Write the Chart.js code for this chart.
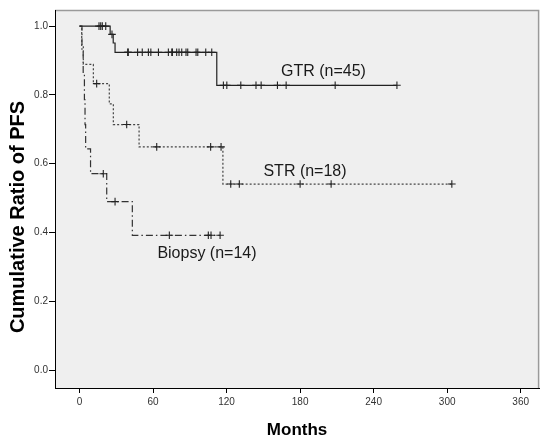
<!DOCTYPE html>
<html>
<head>
<meta charset="utf-8">
<script src="https://cdn.jsdelivr.net/npm/chart.js@4.4.1/dist/chart.umd.min.js"></script>
<style>
  html, body { margin: 0; padding: 0; background: #fff; }
  #wrap { width: 544px; height: 439px; }
</style>
</head>
<body>
<div id="wrap"><canvas id="km" width="544" height="439"></canvas></div>
<script>
// Kaplan-Meier curves (months, cumulative PFS, censored flag)
const gtrTimes = [0, 15.9, 17.3, 18.6, 21.4, 25, 26.5, 27.5, 29, 39.3, 39.8, 47.4, 51.2, 56.2, 58.2, 64.4, 72.5, 75.3, 75.8, 79.3, 81.2, 83.4, 86.9, 88.3, 95.1, 96.5, 103, 107.9, 112, 117.4, 120.2, 131.6, 144, 148.2, 161.5, 168.6, 208.6, 259]
const gtrSurv = [1, 1, 1, 1, 1, 0.976, 0.976, 0.951, 0.924, 0.924, 0.924, 0.924, 0.924, 0.924, 0.924, 0.924, 0.924, 0.924, 0.924, 0.924, 0.924, 0.924, 0.924, 0.924, 0.924, 0.924, 0.924, 0.924, 0.828, 0.828, 0.828, 0.828, 0.828, 0.828, 0.828, 0.828, 0.828, 0.828]
const gtrCensored = [0, 1, 1, 1, 1, 0, 1, 0, 0, 1, 1, 1, 1, 1, 1, 1, 1, 1, 1, 1, 1, 1, 1, 1, 1, 1, 1, 1, 0, 1, 1, 1, 1, 1, 1, 1, 1, 1]

const strTimes = [0, 1.8, 3.1, 11.3, 14, 24.3, 27.6, 38.5, 48.6, 63, 107, 115.5, 117, 123.4, 130.4, 180, 205.3, 303.8]
const strSurv = [1, 0.944, 0.889, 0.833, 0.833, 0.774, 0.714, 0.714, 0.649, 0.649, 0.649, 0.649, 0.541, 0.541, 0.541, 0.541, 0.541, 0.541]
const strCensored = [0, 0, 0, 0, 1, 0, 0, 1, 0, 1, 1, 1, 0, 1, 1, 1, 1, 1]

const bioTimes = [0, 2, 3, 4, 4.5, 5, 9, 19.4, 22.2, 29, 43.1, 73.3, 105.1, 107.3, 114.7]
const bioSurv = [1, 0.929, 0.857, 0.786, 0.714, 0.643, 0.571, 0.571, 0.49, 0.49, 0.392, 0.392, 0.392, 0.392, 0.392]
const bioCensored = [0, 0, 0, 0, 0, 0, 0, 1, 0, 1, 0, 1, 1, 1, 1]

const groupLabels = ['GTR (n=45)', 'STR (n=18)', 'Biopsy (n=14)']
const labelMonths = [199, 184, 104]
const labelRatio = [0.869, 0.576, 0.34]

const xTicks = [0, 60, 120, 180, 240, 300, 360]
const yTicks = [0, 0.2, 0.4, 0.6, 0.8, 1.0]

function kmDataset(label, times, surv, censored, color, dash) {
  return {
    label,
    data: times.map((t, i) => ({ x: t, y: surv[i] })),
    stepped: 'before',
    borderColor: color,
    borderWidth: 1.2,
    borderDash: dash,
    fill: false,
    pointStyle: 'cross',
    pointRadius: ctx => censored[ctx.dataIndex] ? 3.8 : 0,
    pointBorderColor: '#222',
    pointBorderWidth: 1.1,
    pointHoverRadius: 0
  }
}

// plot background + grey frame on top/right
const framePlugin = {
  id: 'frame',
  beforeDraw(chart) {
    const { ctx, chartArea: a } = chart
    ctx.save()
    ctx.fillStyle = '#efefef'
    ctx.fillRect(a.left, a.top, a.right - a.left, a.bottom - a.top)
    ctx.strokeStyle = '#9a9a9a'
    ctx.lineWidth = 1.5
    ctx.beginPath()
    ctx.moveTo(a.left, a.top + 0.5)
    ctx.lineTo(a.right - 0.5, a.top + 0.5)
    ctx.lineTo(a.right - 0.5, a.bottom)
    ctx.stroke()
    ctx.restore()
  },
  afterDraw(chart) {
    const { ctx, chartArea: a, scales } = chart
    ctx.save()
    ctx.fillStyle = '#1a1a1a'
    ctx.font = '16px "Liberation Sans", Arial, sans-serif'
    ctx.textAlign = 'center'
    ctx.textBaseline = 'middle'
    groupLabels.forEach((txt, i) => {
      ctx.fillText(txt, scales.x.getPixelForValue(labelMonths[i]), scales.y.getPixelForValue(labelRatio[i]))
    })
    // axis titles
    ctx.fillStyle = '#000'
    ctx.font = 'bold 17px "Liberation Sans", Arial, sans-serif'
    ctx.fillText('Months', (a.left + a.right) / 2, 430)
    ctx.font = 'bold 20px "Liberation Sans", Arial, sans-serif'
    ctx.translate(18, 217)
    ctx.rotate(-Math.PI / 2)
    ctx.fillText('Cumulative Ratio of PFS', 0, 0)
    ctx.restore()
  }
}

new Chart(document.getElementById('km'), {
  type: 'line',
  data: {
    datasets: [
      kmDataset('GTR', gtrTimes, gtrSurv, gtrCensored, '#222', []),
      kmDataset('STR', strTimes, strSurv, strCensored, '#444', [2, 2]),
      kmDataset('Biopsy', bioTimes, bioSurv, bioCensored, '#333', [7, 3, 1.5, 3])
    ]
  },
  options: {
    responsive: false,
    animation: false,
    devicePixelRatio: 1,
    layout: { padding: { top: 10, right: 0, left: 0, bottom: 0 } },
    plugins: {
      legend: { display: false },
      tooltip: { enabled: false }
    },
    scales: {
      x: {
        type: 'linear',
        min: -20,
        max: 375,
        afterBuildTicks: s => { s.ticks = xTicks.map(v => ({ value: v })) },
        afterFit: s => { s.height = 51 },
        grid: { display: true, drawOnChartArea: false, drawTicks: true, tickLength: 5, color: '#000' },
        border: { display: true, color: '#000', width: 1 },
        ticks: { color: '#333', padding: 3, font: { size: 10, family: '"Liberation Sans", Arial, sans-serif' }, maxRotation: 0 }
      },
      y: {
        type: 'linear',
        min: -0.052,
        max: 1.047,
        afterBuildTicks: s => { s.ticks = yTicks.map(v => ({ value: v })) },
        afterFit: s => { s.width = 55 },
        grid: { display: true, drawOnChartArea: false, drawTicks: true, tickLength: 6, color: '#000' },
        border: { display: true, color: '#000', width: 1 },
        ticks: {
          color: '#333',
          padding: 1,
          font: { size: 10, family: '"Liberation Sans", Arial, sans-serif' },
          callback: v => v.toFixed(1)
        }
      }
    }
  },
  plugins: [framePlugin]
})
</script>
</body>
</html>
